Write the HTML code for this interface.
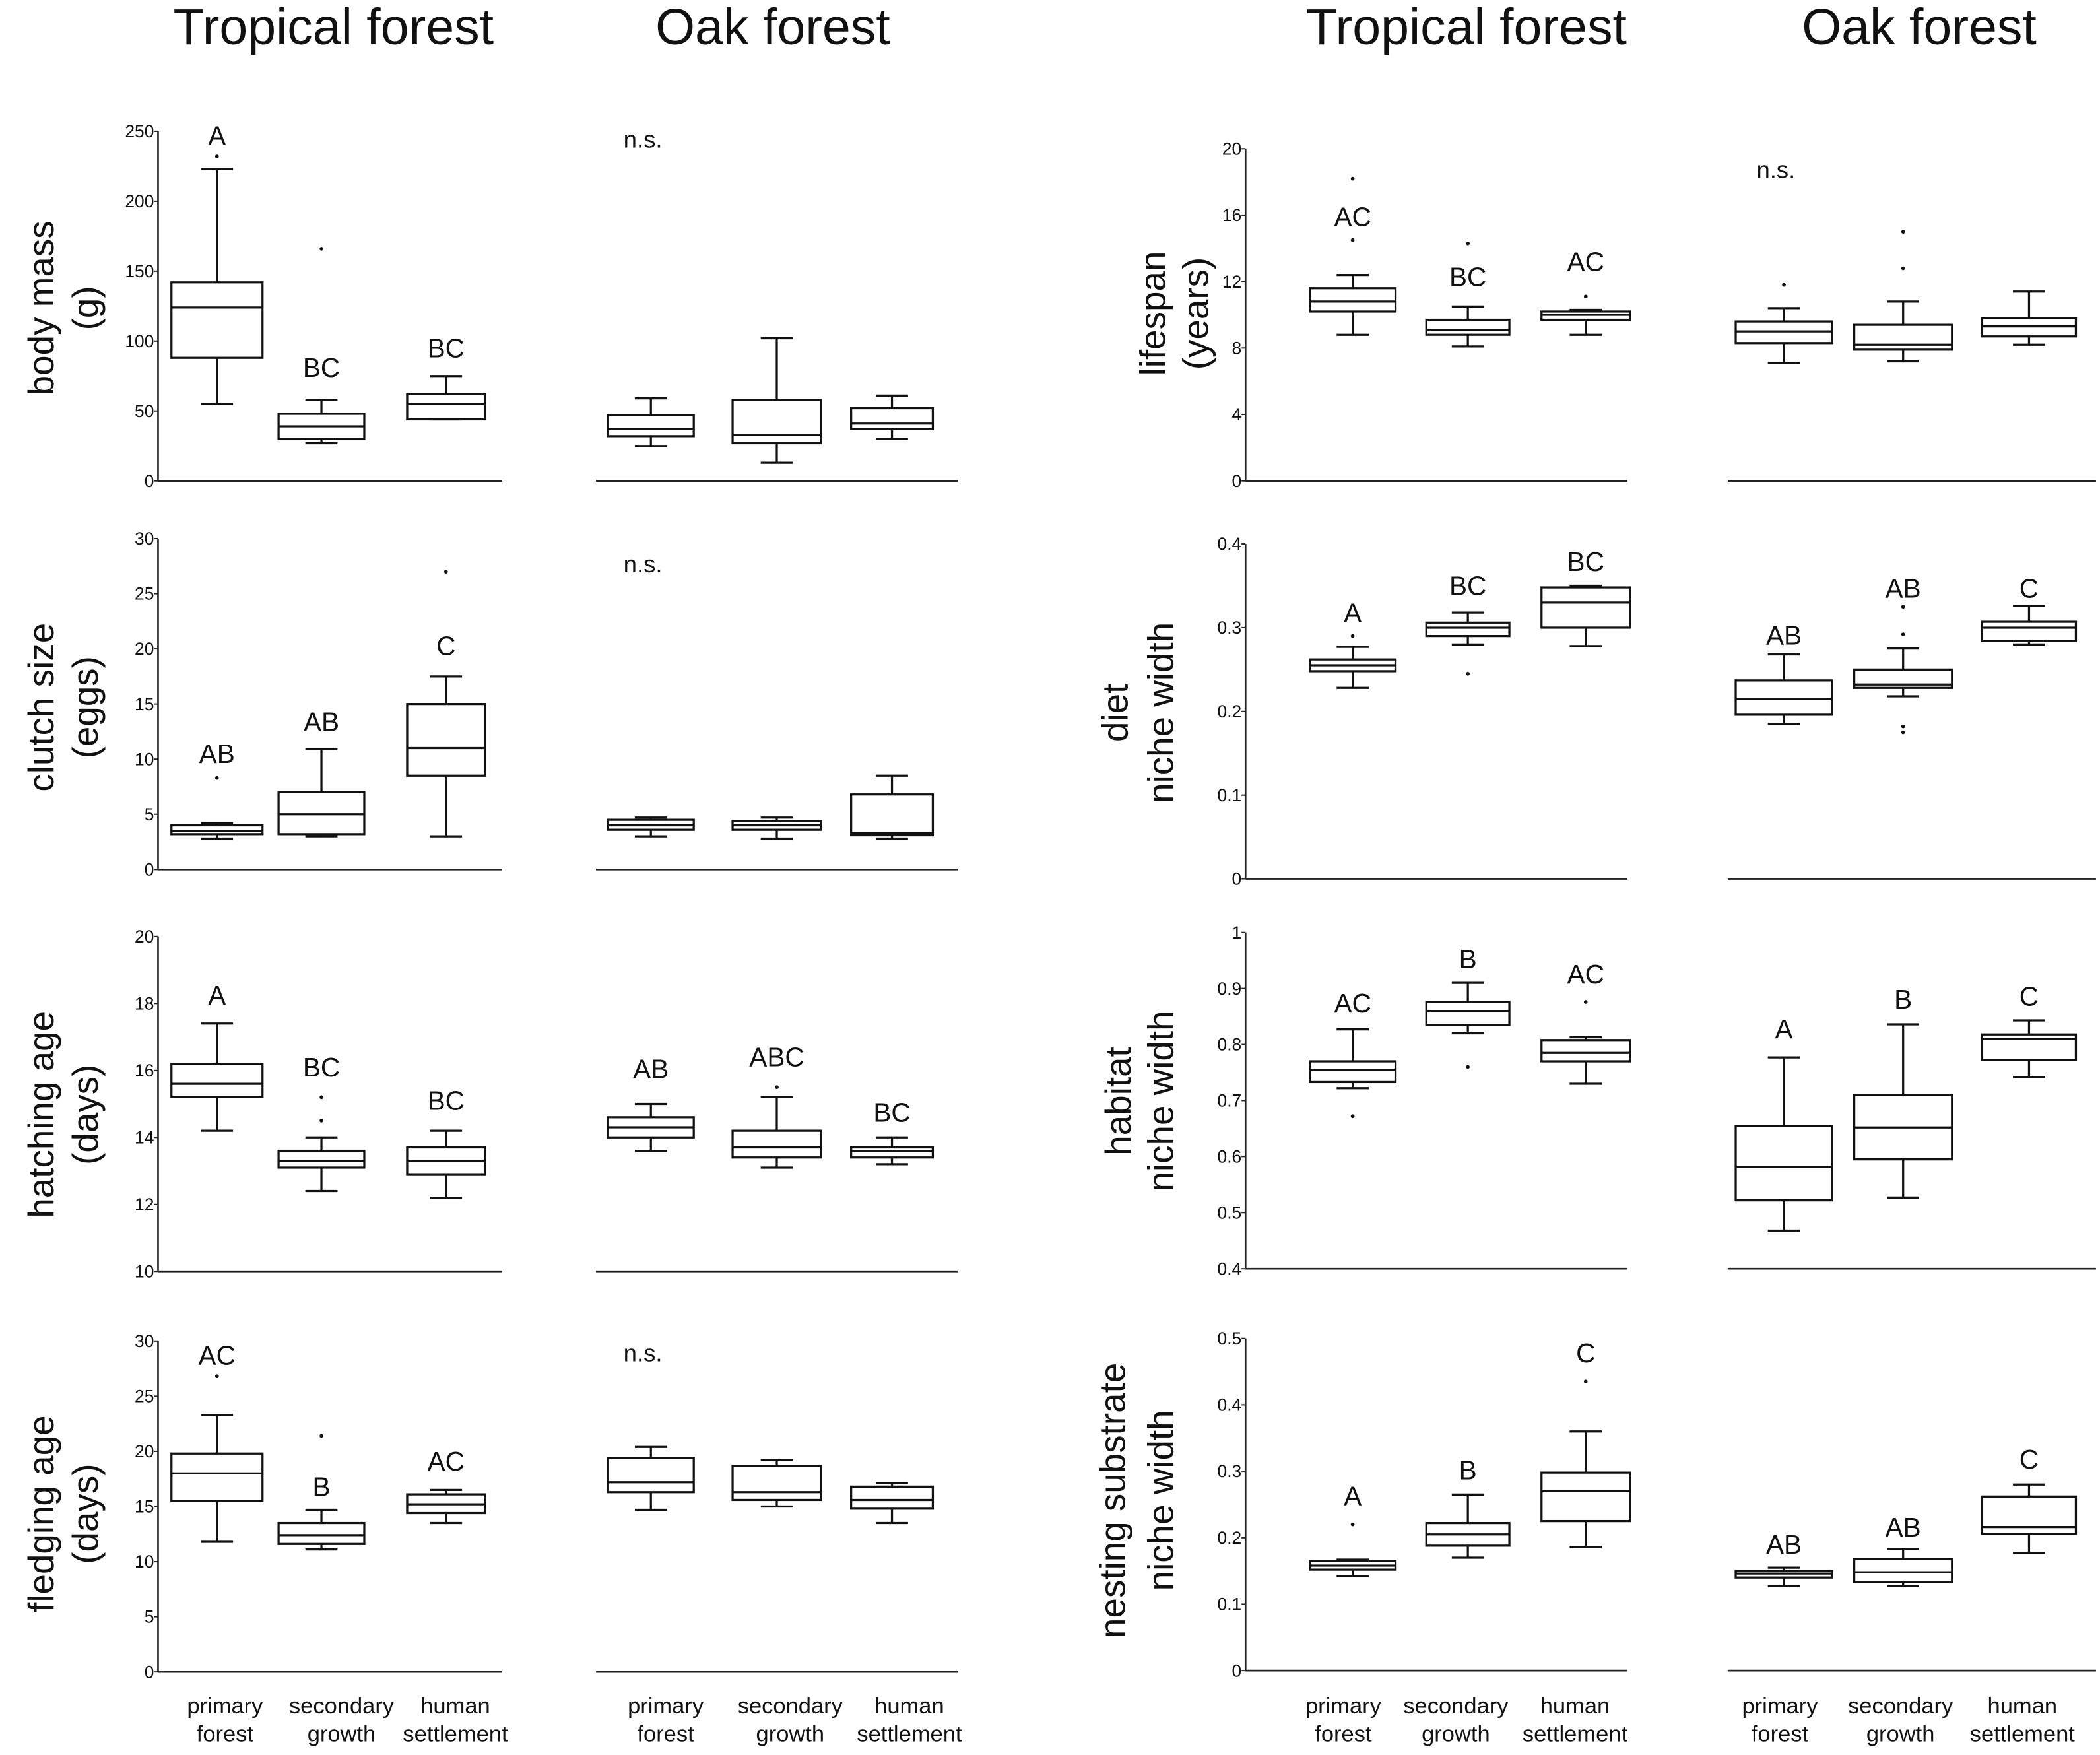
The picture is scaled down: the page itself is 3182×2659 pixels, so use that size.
<!DOCTYPE html>
<html><head><meta charset="utf-8">
<style>
html,body{margin:0;padding:0;background:#fff;}
svg{display:block;}
text{font-family:"Liberation Sans",sans-serif;fill:#111;}
</style></head>
<body>
<svg id="chart" width="3182" height="2659" viewBox="0 0 1568 1310" preserveAspectRatio="none" xmlns="http://www.w3.org/2000/svg"></svg>
<script>
// ---------- data ----------
const groups = ["primary forest","secondary growth","human settlement"];
// each box: [whiskerLow, q1, median, q3, whiskerHigh]
const bodyTrop = [[55,88,124,142,223],[27,30,39,48,58],[44,44,55,62,75]];
const bodyTropOut = [[232],[166],[]];
const bodyTropLab = [["A",247],["BC",81],["BC",95]];
const bodyOak = [[25,32,37,47,59],[13,27,33,58,102],[30,37,41,52,61]];
const bodyOakOut = [[],[],[]];
const bodyOakLab = [["n.s.",245],["",0],["",0]];

const clutchTrop = [[2.8,3.2,3.5,4,4.2],[3,3.2,5,7,10.9],[3,8.5,11,15,17.5]];
const clutchTropOut = [[8.3],[],[27]];
const clutchTropLab = [["AB",10.5],["AB",13.4],["C",20.3]];
const clutchOak = [[3,3.6,4,4.5,4.7],[2.8,3.6,4,4.4,4.7],[2.8,3.1,3.3,6.8,8.5]];
const clutchOakOut = [[],[],[]];
const clutchOakLab = [["n.s.",27.8],["",0],["",0]];

const hatchTrop = [[14.2,15.2,15.6,16.2,17.4],[12.4,13.1,13.3,13.6,14],[12.2,12.9,13.3,13.7,14.2]];
const hatchTropOut = [[],[14.5,15.2],[]];
const hatchTropLab = [["A",18.25],["BC",16.1],["BC",15.1]];
const hatchOak = [[13.6,14,14.3,14.6,15],[13.1,13.4,13.7,14.2,15.2],[13.2,13.4,13.6,13.7,14]];
const hatchOakOut = [[],[15.5],[]];
const hatchOakLab = [["AB",16.05],["ABC",16.4],["BC",14.75]];

const fledgeTrop = [[11.8,15.5,18,19.8,23.3],[11.1,11.6,12.4,13.5,14.7],[13.5,14.4,15.2,16.1,16.5]];
const fledgeTropOut = [[26.8],[21.4],[]];
const fledgeTropLab = [["AC",28.7],["B",16.8],["AC",19.1]];
const fledgeOak = [[14.7,16.3,17.2,19.4,20.4],[15,15.6,16.3,18.7,19.2],[13.5,14.8,15.6,16.8,17.1]];
const fledgeOakOut = [[],[],[]];
const fledgeOakLab = [["n.s.",29],["",0],["",0]];

const lifeTrop = [[8.8,10.2,10.8,11.6,12.4],[8.1,8.8,9.1,9.7,10.5],[8.8,9.7,10,10.2,10.3]];
const lifeTropOut = [[14.5,18.2],[14.3],[11.1]];
const lifeTropLab = [["AC",15.9],["BC",12.3],["AC",13.2]];
const lifeOak = [[7.1,8.3,9,9.6,10.4],[7.2,7.9,8.2,9.4,10.8],[8.2,8.7,9.3,9.8,11.4]];
const lifeOakOut = [[11.8],[12.8,15],[]];
const lifeOakLab = [["n.s.",18.8],["",0],["",0]];

const dietTrop = [[0.228,0.248,0.255,0.262,0.277],[0.28,0.29,0.3,0.306,0.318],[0.278,0.3,0.33,0.348,0.35]];
const dietTropOut = [[0.29],[0.245],[]];
const dietTropLab = [["A",0.318],["BC",0.35],["BC",0.379]];
const dietOak = [[0.185,0.196,0.215,0.237,0.268],[0.218,0.228,0.232,0.25,0.275],[0.28,0.284,0.3,0.307,0.326]];
const dietOakOut = [[],[0.175,0.182,0.292,0.325],[]];
const dietOakLab = [["AB",0.291],["AB",0.347],["C",0.347]];

const habTrop = [[0.722,0.733,0.755,0.77,0.827],[0.82,0.835,0.86,0.876,0.91],[0.73,0.77,0.785,0.808,0.813]];
const habTropOut = [[0.672],[0.76],[0.876]];
const habTropLab = [["AC",0.874],["B",0.953],["AC",0.926]];
const habOak = [[0.468,0.522,0.582,0.655,0.777],[0.527,0.595,0.652,0.71,0.836],[0.742,0.772,0.81,0.818,0.843]];
const habOakOut = [[],[],[]];
const habOakLab = [["A",0.828],["B",0.881],["C",0.886]];

const nestTrop = [[0.142,0.152,0.158,0.165,0.167],[0.17,0.188,0.205,0.222,0.265],[0.186,0.225,0.27,0.298,0.36]];
const nestTropOut = [[0.22],[],[0.435]];
const nestTropLab = [["A",0.263],["B",0.302],["C",0.478]];
const nestOak = [[0.127,0.14,0.146,0.15,0.155],[0.127,0.133,0.148,0.168,0.183],[0.177,0.206,0.216,0.262,0.28]];
const nestOakOut = [[],[],[]];
const nestOakLab = [["AB",0.19],["AB",0.216],["C",0.318]];

const bodyTicks = ["0","50","100","150","200","250"];
const clutchTicks = ["0","5","10","15","20","25","30"];
const hatchTicks = ["10","12","14","16","18","20"];
const fledgeTicks = ["0","5","10","15","20","25","30"];
const lifeTicks = ["0","4","8","12","16","20"];
const dietTicks = ["0","0.1","0.2","0.3","0.4"];
const habTicks = ["0.4","0.5","0.6","0.7","0.8","0.9","1"];
const nestTicks = ["0","0.1","0.2","0.3","0.4","0.5"];

// ---------- layout ----------
const NS="http://www.w3.org/2000/svg";
const svg=document.getElementById('chart');
function el(tag,attrs,parent){const e=document.createElementNS(NS,tag);for(const k in attrs)e.setAttribute(k,attrs[k]);(parent||svg).appendChild(e);return e;}

const leftCols={trop:{x0:118,x1:375,cx:[162,240,333],w:[68,64,58],lx:[168,255,340]},oak:{x0:445,x1:715,cx:[486,580,666],w:[64,66,61],lx:[497,590,679]}};
const rightCols={trop:{x0:930,x1:1215,cx:[1010,1096,1184],w:[64,62,66],lx:[1003,1087,1176]},oak:{x0:1290,x1:1565,cx:[1332,1421,1515],w:[72,73,70],lx:[1329,1419,1510]}};

const rows=[
 {cols:leftCols,top:98,bot:359,min:0,max:250,ticks:bodyTicks,title:["body mass","(g)"],tx:[30,63],ty:230,name:"body-mass",
  trop:[bodyTrop,bodyTropOut,bodyTropLab],oak:[bodyOak,bodyOakOut,bodyOakLab]},
 {cols:leftCols,top:402,bot:649,min:0,max:30,ticks:clutchTicks,title:["clutch size","(eggs)"],tx:[30,63],ty:528,name:"clutch-size",
  trop:[clutchTrop,clutchTropOut,clutchTropLab],oak:[clutchOak,clutchOakOut,clutchOakLab]},
 {cols:leftCols,top:699,bot:949,min:10,max:20,ticks:hatchTicks,title:["hatching age","(days)"],tx:[30,63],ty:832,name:"hatching-age",
  trop:[hatchTrop,hatchTropOut,hatchTropLab],oak:[hatchOak,hatchOakOut,hatchOakLab]},
 {cols:leftCols,top:1001,bot:1248,min:0,max:30,ticks:fledgeTicks,title:["fledging age","(days)"],tx:[30,63],ty:1130,name:"fledging-age",
  trop:[fledgeTrop,fledgeTropOut,fledgeTropLab],oak:[fledgeOak,fledgeOakOut,fledgeOakLab]},
 {cols:rightCols,top:111,bot:359,min:0,max:20,ticks:lifeTicks,title:["lifespan","(years)"],tx:[860,892],ty:234,name:"lifespan",
  trop:[lifeTrop,lifeTropOut,lifeTropLab],oak:[lifeOak,lifeOakOut,lifeOakLab]},
 {cols:rightCols,top:406,bot:656,min:0,max:0.4,ticks:dietTicks,title:["diet","niche width"],tx:[832,866],ty:532,name:"diet-niche-width",
  trop:[dietTrop,dietTropOut,dietTropLab],oak:[dietOak,dietOakOut,dietOakLab]},
 {cols:rightCols,top:696,bot:947,min:0.4,max:1,ticks:habTicks,title:["habitat","niche width"],tx:[834,866],ty:822,name:"habitat-niche-width",
  trop:[habTrop,habTropOut,habTropLab],oak:[habOak,habOakOut,habOakLab]},
 {cols:rightCols,top:999,bot:1247,min:0,max:0.5,ticks:nestTicks,title:["nesting substrate","niche width"],tx:[830,866],ty:1120,name:"nesting-niche-width",
  trop:[nestTrop,nestTropOut,nestTropLab],oak:[nestOak,nestOakOut,nestOakLab]}
];

// headers
[["Tropical forest",249],["Oak forest",577],["Tropical forest",1095],["Oak forest",1433]].forEach(h=>{
  const t=el('text',{x:h[1],y:33,'text-anchor':'middle','font-size':38});
  t.textContent=h[0];
  
  
});

rows.forEach(r=>{
  const g=el('g',{});
  
  
  const y=v=>r.bot-(v-r.min)/(r.max-r.min)*(r.bot-r.top);
  r.title.forEach((s,i)=>{
    const t=el('text',{x:0,y:0,'text-anchor':'middle','font-size':27,transform:`translate(${r.tx[i]+10},${r.ty}) rotate(-90)`},g);
    t.textContent=s;
    
    
  });
  const tc=r.cols.trop;
  const ax=el('line',{x1:tc.x0,y1:r.top,x2:tc.x0,y2:r.bot,stroke:'#222','stroke-width':1.3},g);
  
  
  r.ticks.forEach(lbl=>{
    const yy=y(parseFloat(lbl));
    el('line',{x1:tc.x0-3,y1:yy,x2:tc.x0,y2:yy,stroke:'#222','stroke-width':1},g);
    const t=el('text',{x:tc.x0-3,y:yy+4.5,'text-anchor':'end','font-size':13},g);
    t.textContent=lbl;
    
    
  });
  ['trop','oak'].forEach(key=>{
    const c=r.cols[key];
    const base=el('line',{x1:c.x0,y1:r.bot,x2:c.x1,y2:r.bot,stroke:'#222','stroke-width':1.3},g);
    
    
    const [boxes,outs,labs]=r[key];
    boxes.forEach((b,i)=>{
      const cx=c.cx[i],w=c.w[i];
      const bg=el('g',{stroke:'#111',fill:'none','stroke-width':1.6},g);
      
      
      el('line',{x1:cx,y1:y(b[0]),x2:cx,y2:y(b[1])},bg);
      el('line',{x1:cx,y1:y(b[3]),x2:cx,y2:y(b[4])},bg);
      el('line',{x1:cx-12,y1:y(b[0]),x2:cx+12,y2:y(b[0])},bg);
      el('line',{x1:cx-12,y1:y(b[4]),x2:cx+12,y2:y(b[4])},bg);
      el('rect',{x:cx-w/2,y:y(b[3]),width:w,height:Math.max(0.5,y(b[1])-y(b[3]))},bg);
      el('line',{x1:cx-w/2,y1:y(b[2]),x2:cx+w/2,y2:y(b[2])},bg);
      outs[i].forEach(o=>{
        const d=el('circle',{cx:cx,cy:y(o),r:1.4,fill:'#111',stroke:'none'},g);
        
        
      });
      const L=labs[i];
      if(L[0]){
        const lx=L[0]==="n.s."?cx-6:cx;
        const t=el('text',{x:lx,y:y(L[1])+7,'text-anchor':'middle','font-size':L[0]==="n.s."?18:20},g);
        t.textContent=L[0];
        
        
      }
    });
  });
});

[leftCols,rightCols].forEach(cols=>{
  ['trop','oak'].forEach(k=>{
    cols[k].lx.forEach((lx,i)=>{
      const parts=groups[i].split(' ');
      parts.forEach((p,j)=>{
        const t=el('text',{x:lx,y:1279+j*21,'text-anchor':'middle','font-size':17});
        t.textContent=p;
        
        
      });
    });
  });
});
</script>
</body></html>
